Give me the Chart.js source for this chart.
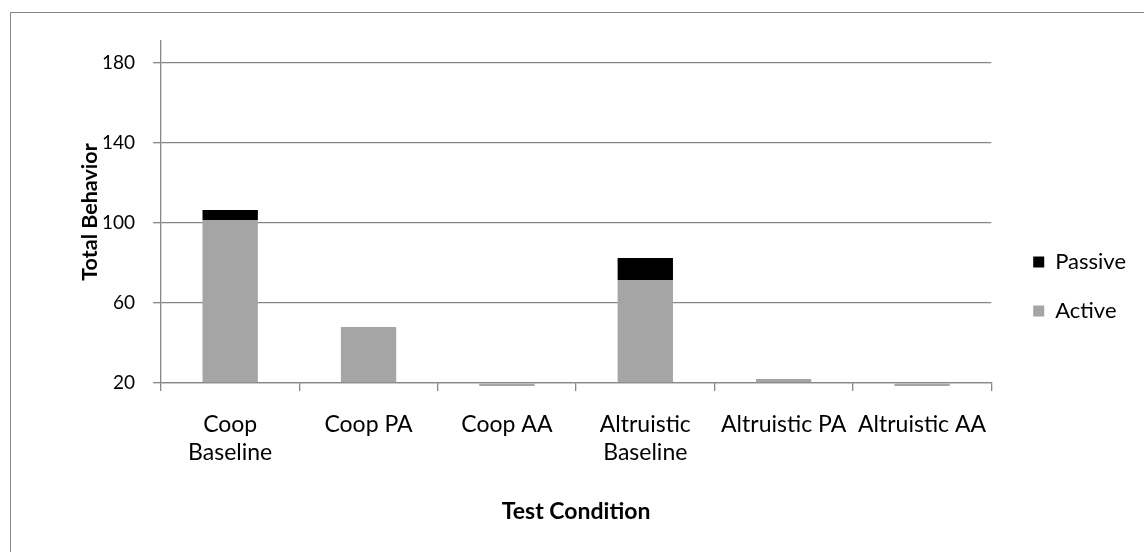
<!DOCTYPE html>
<html>
<head>
<meta charset="utf-8">
<script src="https://cdn.jsdelivr.net/npm/chart.js@4.4.1/dist/chart.umd.min.js"></script>
<style>
  body { margin: 0; background: #fff; overflow: hidden; }
  #wrap { position: relative; width: 1144px; height: 552px; }
  #frame { position: absolute; left: 10px; top: 12px; width: 1200px; height: 600px;
           border-left: 1.5px solid #868686; border-top: 1.5px solid #868686; }
</style>
</head>
<body>
<div id="wrap">
  <div id="frame"></div>
  <canvas id="myChart"></canvas>
</div>
<script>
// dati
const categorie = [["Coop", "Baseline"], "Coop PA", "Coop AA", ["Altruistic", "Baseline"], "Altruistic PA", "Altruistic AA"]
const attivo = [101.5, 48, 18.5, 71.5, 22, 18.5]
const passivo = [5, 0, 0, 11, 0, 0]
const yTicks = [20, 60, 100, 140, 180]

const grigio = "#868686"
const font = "Lato, 'Open Sans', sans-serif"

// sposta la legenda verso destra come nell'originale
const spostaLegenda = {
  id: "spostaLegenda",
  afterLayout(chart) {
    const lg = chart.legend
    lg.left += 15
    lg.right += 15
  }
}

const ctx = document.getElementById("myChart").getContext("2d")
const myChart = new Chart(ctx, {
  type: "bar",
  data: {
    labels: categorie,
    datasets: [{
      label: "Active",
      data: attivo,
      backgroundColor: "#a5a5a5",
      base: 20,
      clip: false
    }, {
      label: "Passive",
      data: passivo,
      backgroundColor: "#000000"
    }]
  },
  options: {
    responsive: true,
    maintainAspectRatio: false,
    animation: false,
    layout: { padding: { left: 70, top: 41, bottom: 20, right: 23 } },
    datasets: { bar: { barPercentage: 0.4, categoryPercentage: 1 } },
    plugins: {
      tooltip: { enabled: false },
      legend: {
        position: "right",
        reverse: true,
        labels: {
          boxWidth: 11, boxHeight: 11, padding: 27, color: "#000",
          font: { family: font, size: 22 }
        }
      }
    },
    scales: {
      x: {
        stacked: true,
        grid: { drawOnChartArea: false, tickLength: 8, color: grigio, lineWidth: 1.3 },
        border: { color: grigio, width: 1.3 },
        ticks: { color: "#000", padding: 20, maxRotation: 0, autoSkip: false,
                 font: { family: font, size: 23, lineHeight: 1.2 } },
        title: { display: true, text: "Test Condition", color: "#000",
                 padding: { top: 0, bottom: 7 },
                 font: { family: font, size: 23, weight: "bold" } },
        afterFit: s => { s.height = 552 - 383 - 20 }
      },
      y: {
        stacked: true,
        min: 20,
        max: 191,
        grid: { color: grigio, lineWidth: 1.3, tickLength: 8 },
        border: { color: grigio, width: 1.3 },
        ticks: { color: "#000", padding: 18, font: { family: font, size: 19 } },
        afterBuildTicks: s => { s.ticks = yTicks.map(v => ({ value: v })) },
        title: { display: true, text: "Total Behavior", color: "#000",
                 padding: { top: 7, bottom: 0 },
                 font: { family: font, size: 21.5, weight: "bold" } },
        afterFit: s => { s.width = 161 - 70 }
      }
    }
  },
  plugins: [spostaLegenda]
})
</script>
</body>
</html>
